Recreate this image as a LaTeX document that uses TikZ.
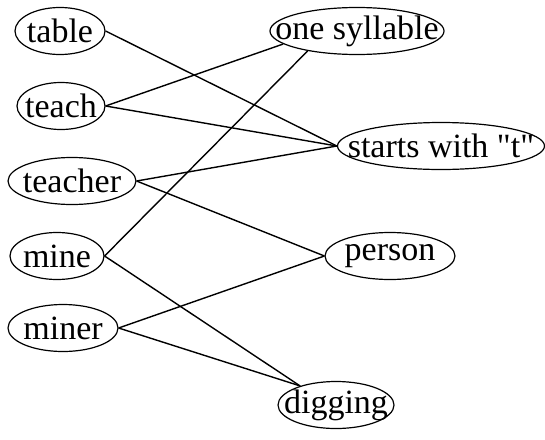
\documentclass[tikz,border=0pt]{standalone}
\usepackage{fontspec}
\setmainfont{Liberation Serif}
\usetikzlibrary{shapes.geometric}

% text takes no width, so the ellipse keeps the size given to it
\newcommand{\wordtext}[1]{\makebox[0pt]{#1}}

\tikzset{
  word/.style={draw, ellipse, line width=1.2pt, inner sep=0pt, minimum height=47pt, font=\fontsize{34}{34}\selectfont},
  link/.style={line width=1.4pt}
}

\begin{document}
\begin{tikzpicture}[x=1pt, y=-1pt]
				\useasboundingbox (0,0) rectangle (545,439);
				% words on the left
				\node[word, minimum width=90pt] (table) at (60,31){\wordtext{table}};
				\node[word, minimum width=88pt] (teach) at (61,106){\wordtext{teach}};
				\node[word, minimum width=128pt] (teacher) at (72,181){\wordtext{teacher}};
				\node[word, minimum width=94pt] (mine) at (57,256){\wordtext{mine}};
				\node[word, minimum width=110pt] (miner) at (63,328){\wordtext{miner}};
				% properties on the right
				\node[word, minimum width=174pt] (one) at (357,31){\wordtext{one syllable}};
				\node[word, minimum width=207pt] (starts) at (441,146){\wordtext{starts with \textquotedbl t\textquotedbl}};
				\node[word, minimum width=130pt] (person) at (390,256){\wordtext{person}};
				\node[word, minimum width=116pt] (digging) at (336,405){\wordtext{digging}};
				% links
				\draw[link] (table.east) -- (starts.west);
				\draw[link] (teach.east) -- (one.190);
				\draw[link] (teach.east) -- (starts.west);
				\draw[link] (teacher.east) -- (starts.west);
				\draw[link] (teacher.east) -- (person.west);
				\draw[link] (mine.east) -- (one.202);
				\draw[link] (mine.east) -- (digging.152);
				\draw[link] (miner.east) -- (person.west);
				\draw[link] (miner.east) -- (digging.152);
			\end{tikzpicture}
\end{document}
